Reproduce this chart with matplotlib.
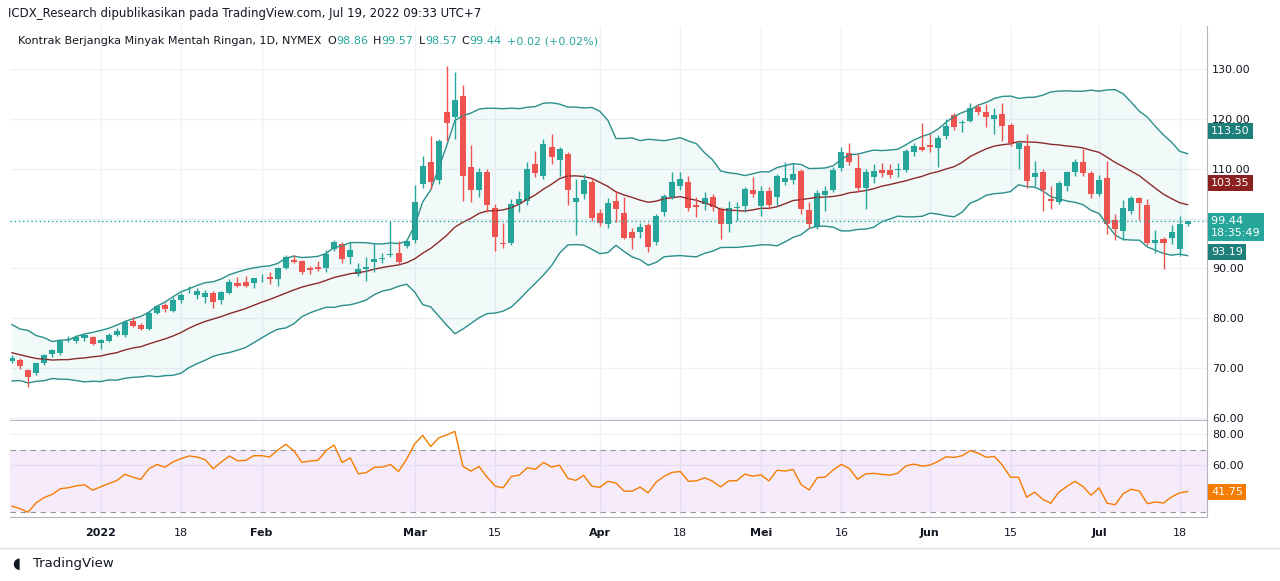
import numpy as np
import pandas as pd
import matplotlib
matplotlib.use("Agg")
import matplotlib.pyplot as plt

plt.rcParams.update({"font.family": "DejaVu Sans", "font.size": 8})

# ---- data --------------------------------------------------------------
holidays = ["2021-12-24", "2022-01-17", "2022-02-21", "2022-04-15",
            "2022-05-30", "2022-06-20", "2022-07-04"]
dates = pd.bdate_range("2021-12-16", "2022-07-19", freq="C", holidays=holidays)

# closes before the visible window (only feed the indicators)
prior_close = [78.5, 76.0, 78.0, 75.5, 77.0, 74.0, 75.5, 72.0, 74.0, 70.5,
               72.5, 69.0, 71.5, 68.5, 70.5, 72.5, 70.0, 72.5, 71.5]

ohlc = [
    (71.5, 72.6, 71.0, 72.0), (71.6, 72.0, 69.8, 70.5), (69.6, 69.8, 66.3, 68.3),
    (69.0, 71.3, 68.7, 71.0), (71.0, 72.8, 70.7, 72.6), (72.9, 73.9, 72.3, 73.6),
    (73.0, 75.8, 72.6, 75.4), (75.7, 76.4, 75.3, 75.7), (75.5, 76.6, 75.0, 76.3),
    (76.1, 76.8, 75.4, 76.6), (76.3, 76.5, 74.6, 74.8), (75.1, 75.8, 73.9, 75.7),
    (75.5, 77.0, 75.2, 76.6), (76.6, 78.0, 76.4, 77.4), (76.6, 79.6, 76.3, 79.2),
    (79.5, 80.2, 78.3, 78.5), (78.6, 79.1, 77.7, 77.9), (77.9, 81.4, 77.6, 81.0),
    (81.1, 82.7, 80.8, 82.4), (82.6, 83.0, 81.3, 81.8), (81.5, 84.2, 81.3, 83.6),
    (83.7, 85.1, 83.0, 84.7), (85.6, 86.5, 85.0, 85.7), (84.7, 86.0, 83.8, 85.5),
    (84.3, 85.6, 83.0, 85.0), (85.0, 85.5, 82.0, 83.3), (83.6, 85.5, 82.9, 85.3),
    (85.0, 87.8, 84.8, 87.3), (87.0, 88.2, 86.2, 86.4), (87.2, 88.5, 86.3, 86.5),
    (87.1, 88.1, 86.1, 88.0), (88.0, 88.9, 87.2, 88.0), (88.2, 89.2, 86.9, 87.8),
    (87.8, 90.2, 86.5, 90.0), (90.0, 92.7, 89.8, 92.2), (91.7, 92.7, 91.0, 91.2),
    (91.4, 91.6, 88.8, 89.2), (90.1, 90.5, 88.9, 89.6), (90.3, 91.4, 89.5, 89.8),
    (90.0, 93.7, 89.3, 92.9), (93.8, 95.7, 93.5, 95.2), (94.9, 95.2, 91.1, 91.9),
    (92.3, 95.2, 90.9, 93.6), (88.9, 91.0, 88.5, 89.8), (89.9, 92.2, 87.5, 90.2),
    (91.2, 95.0, 89.2, 91.9), (91.9, 93.0, 91.0, 92.0), (92.6, 99.5, 92.2, 92.8),
    (93.1, 95.5, 90.9, 91.3), (94.4, 95.5, 94.0, 95.4),
    # March
    (95.7, 106.7, 95.0, 103.4), (107.0, 112.5, 106.2, 110.6), (111.4, 116.6, 106.0, 107.4),
    (107.7, 116.0, 107.0, 115.6), (121.4, 130.6, 115.6, 119.2), (120.4, 129.4, 116.0, 123.8),
    (124.6, 126.8, 103.6, 108.5), (110.4, 114.8, 103.4, 105.7), (105.7, 110.2, 104.3, 109.4),
    (109.4, 110.0, 101.3, 102.7), (102.2, 103.0, 93.5, 96.2), (95.1, 99.0, 94.0, 94.9),
    (95.1, 104.0, 94.6, 102.9), (103.0, 105.6, 101.4, 104.0), (103.5, 111.4, 102.8, 110.0),
    (111.0, 113.5, 108.4, 109.1), (108.6, 116.0, 108.0, 115.0), (114.3, 117.0, 111.0, 112.3),
    (111.7, 114.3, 108.6, 113.9), (112.9, 113.3, 102.7, 105.7), (103.4, 108.0, 96.6, 104.2),
    (105.0, 109.0, 104.0, 107.8), (107.4, 108.2, 99.6, 100.1),
    # April
    (101.2, 102.0, 98.5, 99.2), (98.9, 104.2, 98.0, 103.2), (103.6, 105.6, 99.4, 102.0),
    (101.2, 104.4, 95.8, 96.1), (97.3, 98.0, 93.8, 96.0), (97.3, 99.0, 96.0, 98.3),
    (98.6, 99.0, 93.3, 94.3), (95.3, 101.0, 94.6, 100.6), (101.3, 105.0, 100.6, 104.6),
    (104.4, 109.4, 103.9, 107.3), (106.6, 109.4, 105.7, 107.9), (107.3, 108.6, 101.5, 102.1),
    (102.7, 104.4, 100.3, 102.4), (103.0, 105.3, 101.8, 104.2), (104.4, 105.0, 101.6, 102.3),
    (101.9, 102.4, 95.8, 98.9), (98.9, 103.5, 97.2, 102.2), (102.1, 103.4, 99.6, 102.3),
    (102.5, 106.4, 101.4, 105.9), (105.7, 108.3, 104.4, 104.9),
    # May
    (102.5, 106.5, 100.5, 105.6), (105.5, 106.3, 102.0, 102.8), (104.4, 108.9, 102.6, 108.5),
    (107.4, 111.3, 106.8, 108.1), (107.8, 111.2, 107.0, 109.0), (109.5, 110.0, 101.0, 101.9),
    (101.8, 103.3, 98.0, 98.9), (98.2, 105.8, 97.8, 105.2), (104.8, 106.6, 101.6, 105.6),
    (105.8, 110.3, 105.4, 109.8), (110.1, 114.3, 109.5, 113.4), (113.1, 115.2, 110.7, 111.4),
    (110.1, 112.9, 105.4, 106.1), (106.1, 110.0, 102.0, 109.3), (108.3, 111.0, 107.2, 109.6),
    (109.8, 111.2, 108.4, 109.1), (109.7, 111.0, 108.2, 108.8), (109.7, 111.2, 108.3, 109.7),
    (109.7, 114.0, 109.4, 113.5), (113.4, 115.2, 112.6, 114.5), (114.3, 119.2, 113.5, 113.8),
    # June
    (114.7, 117.0, 113.4, 114.3), (114.1, 116.7, 110.3, 116.1), (116.6, 120.0, 116.0, 118.6),
    (120.8, 121.2, 117.8, 118.4), (119.1, 119.8, 117.3, 119.3), (119.6, 123.1, 119.3, 122.1),
    (122.4, 123.0, 120.7, 121.4), (121.4, 123.0, 118.4, 120.4), (120.0, 122.2, 117.0, 120.8),
    (121.0, 123.2, 115.5, 118.6), (118.8, 119.2, 114.5, 115.1), (114.0, 115.6, 110.0, 115.1),
    (114.5, 116.9, 106.2, 107.5), (108.3, 111.5, 106.6, 109.1), (109.3, 110.0, 101.6, 105.7),
    (103.9, 106.5, 102.0, 103.6), (103.4, 107.6, 103.0, 107.2), (106.6, 109.6, 105.5, 109.3),
    (109.4, 112.0, 108.5, 111.3), (111.3, 114.0, 108.6, 109.1), (109.1, 109.6, 104.2, 105.0),
    # July
    (105.0, 108.8, 104.6, 107.7), (108.2, 111.5, 96.8, 98.8), (99.7, 101.0, 95.6, 97.8),
    (97.5, 103.8, 95.6, 102.2), (101.5, 104.5, 100.9, 104.1), (104.1, 104.4, 99.8, 103.1),
    (102.7, 104.0, 94.6, 95.0), (95.0, 97.6, 93.1, 95.7), (95.9, 96.3, 89.8, 95.0),
    (96.1, 98.6, 94.9, 97.3), (93.8, 100.5, 92.4, 98.9), (98.86, 99.57, 98.57, 99.44),
]
opens = np.array([r[0] for r in ohlc])
highs = np.array([r[1] for r in ohlc])
lows = np.array([r[2] for r in ohlc])
closes = np.array([r[3] for r in ohlc])

tick_dates = ["2022-01-03", "2022-01-18", "2022-02-01", "2022-03-01", "2022-03-15",
              "2022-04-01", "2022-04-18", "2022-05-02", "2022-05-16", "2022-06-01",
              "2022-06-15", "2022-07-01", "2022-07-18"]
tick_labels = ["2022", "18", "Feb", "Mar", "15", "Apr", "18", "Mei", "16", "Jun",
               "15", "Jul", "18"]
price_ticks = [60, 70, 80, 90, 100, 110, 120, 130]
rsi_ticks = [60, 80]

# ---- indicators ----------------------------------------------------------
allc = pd.Series(list(prior_close) + list(closes))
n0 = len(prior_close)
basis = allc.rolling(20).mean()
sd = allc.rolling(20).std(ddof=0)
upper = (basis + 2 * sd).values[n0:]
lower = (basis - 2 * sd).values[n0:]
basis = basis.values[n0:]
delta = allc.diff()
gain = delta.clip(lower=0).ewm(alpha=1 / 14, adjust=False).mean()
loss = (-delta.clip(upper=0)).ewm(alpha=1 / 14, adjust=False).mean()
rsi = (100 - 100 / (1 + gain / loss)).values[n0:]

idx = np.arange(len(closes))
GREEN, RED = "#26a69a", "#ef5350"
BAND = "#2a8f8b"
BASIS = "#8b2b2b"
GRID = "#eef1f5"
TXT = "#131722"

fig = plt.figure(figsize=(12.8, 5.81), dpi=100)
W, H = 1280, 581
def axrect(x0, y0, x1, y1):
    return [x0 / W, 1 - y1 / H, (x1 - x0) / W, (y1 - y0) / H]

ax = fig.add_axes(axrect(10, 26, 1207, 420))
axr = fig.add_axes(axrect(10, 421, 1207, 517), sharex=ax)
xlim = (-0.25, 148.4)

# price panel
ax.fill_between(idx, lower, upper, color=GREEN, alpha=0.06, lw=0)
ax.plot(idx, upper, color=BAND, lw=1)
ax.plot(idx, lower, color=BAND, lw=1)
ax.plot(idx, basis, color=BASIS, lw=1)
up = closes >= opens
cols = np.where(up, GREEN, RED)
ax.vlines(idx, lows, highs, colors=cols, lw=1)
ax.bar(idx, np.maximum(np.abs(closes - opens), 0.15), bottom=np.minimum(opens, closes),
       width=0.75, color=cols, lw=0)
ax.axhline(closes[-1], color=GREEN, lw=1, ls=(0, (1, 2)))
ax.set_ylim(59.6, 138.6)
ax.set_yticks(price_ticks)
ax.grid(True, color=GRID, lw=1)
ax.set_axisbelow(True)

# rsi panel
axr.axhspan(30, 70, color="#b35fe0", alpha=0.12, lw=0)
axr.axhline(70, color="#9598a1", lw=0.8, ls=(0, (5, 4)))
axr.axhline(30, color="#9598a1", lw=0.8, ls=(0, (5, 4)))
axr.plot(idx, rsi, color="#f57c00", lw=1)
axr.set_ylim(26.5, 88.4)
axr.set_yticks(rsi_ticks)
axr.grid(True, color=GRID, lw=1)
axr.set_axisbelow(True)

tpos = [dates.get_loc(pd.Timestamp(d)) for d in tick_dates]
for a in (ax, axr):
    a.set_xlim(*xlim)
    a.set_xticks(tpos)
    a.tick_params(length=0, labelsize=8, colors=TXT)
    a.yaxis.tick_right()
    for s in a.spines.values():
        s.set_visible(False)
    for side in ("right", "bottom"):
        a.spines[side].set_visible(True)
        a.spines[side].set_color("#b2b5be")
ax.tick_params(labelbottom=False)
ax.set_yticklabels([f"{v:.2f}" for v in price_ticks])
axr.set_yticklabels([f"{v:.2f}" for v in rsi_ticks])
axr.set_xticklabels(tick_labels)
for lab, t in zip(axr.get_xticklabels(), tick_labels):
    if t in ("2022", "Feb", "Mar", "Apr", "Mei", "Jun", "Jul"):
        lab.set_fontweight("bold")
axr.tick_params(axis="x", pad=8)

# right-hand value tags, placed at the pixel rows they sit on in the reference
def tag(a, yfrac, text, color):
    a.annotate(text, xy=(1, yfrac), xycoords="axes fraction", xytext=(3, 0),
               textcoords="offset points", ha="left", va="center", fontsize=8,
               color="white", bbox=dict(boxstyle="square,pad=0.3", fc=color, ec="none"))

def price_row(ypx):
    return 1 - (ypx - 26) / (420 - 26)

tag(ax, price_row(131), "113.50", "#1f7f7a")
tag(ax, price_row(183), "103.35", "#8b2020")
tag(ax, price_row(227), "99.44  \n18:35:49", GREEN)
tag(ax, price_row(252), "93.19", "#1f7f7a")
tag(axr, 1 - (492 - 421) / 96, "41.75", "#f57c00")

# header and legend
fig.text(8 / W, 1 - 13 / H, "ICDX_Research dipublikasikan pada TradingView.com, Jul 19, 2022 09:33 UTC+7",
         fontsize=8.5, color=TXT, va="center")
ly = 1 - 41 / H
renderer = fig.canvas.get_renderer()
x = 18
parts = [("Kontrak Berjangka Minyak Mentah Ringan, 1D, NYMEX", TXT, 6),
         ("O", TXT, 0), ("98.86", GREEN, 5), ("H", TXT, 0), ("99.57", GREEN, 5),
         ("L", TXT, 0), ("98.57", GREEN, 5), ("C", TXT, 0), ("99.44", GREEN, 5),
         ("+0.02 (+0.02%)", GREEN, 0)]
for s, c, gap in parts:
    t = fig.text(x / W, ly, s, fontsize=8, color=c, va="center")
    x += t.get_window_extent(renderer).width + gap

# footer
fig.add_artist(plt.Line2D([0, 1], [1 - 548 / H] * 2, color="#e0e3eb", lw=1))
fig.text(12 / W, 1 - 563 / H, "\u25d6", fontsize=11, color=TXT, va="center")
fig.text(33 / W, 1 - 563 / H, "TradingView", fontsize=9.5, color=TXT, va="center")

fig.savefig("out.png", dpi=100)
